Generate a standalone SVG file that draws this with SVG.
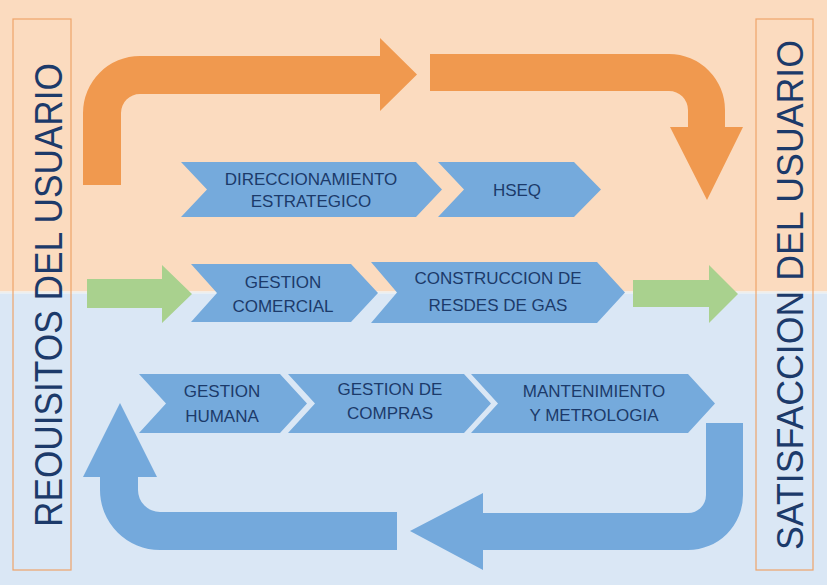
<svg xmlns="http://www.w3.org/2000/svg" width="831" height="588" viewBox="0 0 831 588">
  <style>
    .chev { fill: #75aadc; }
    .lbl { font-family: "Liberation Sans", Arial, sans-serif; font-size: 17px; fill: #1c3a6a; text-anchor: middle; }
    .side { font-family: "Liberation Sans", Arial, sans-serif; fill: #1c3a6a; text-anchor: middle; }
    .sidebox { fill: none; stroke: #eea46a; stroke-width: 1.2; }
    .orange { fill: #f0994f; }
    .green { fill: #a9d18e; }
    .blue { fill: #74a9dc; }
  </style>
  <rect x="0" y="0" width="831" height="588" fill="#ffffff"/>
  <rect x="0" y="0" width="827" height="291.5" fill="#fbdbbf"/>
  <rect x="0" y="291.5" width="827" height="2" fill="#eeeeec"/>
  <rect x="0" y="293.5" width="827" height="291.5" fill="#dae7f5"/>

  <g id="connectors">
    <path class="orange" d="M83,185 L83,113 A57,57 0 0 1 140,56 L380,56 L380,38 L417,74.5 L380,111 L380,94 L140,94 A19,19 0 0 0 121,113 L121,185 Z"/>
    <path class="orange" d="M430,54 L669,54 A56,56 0 0 1 725,110 L725,127 L743,127 L707,200 L670,127 L688,127 L688,110 A19,19 0 0 0 669,91 L430,91 Z"/>
    <path class="green" d="M87,279 L162,279 L162,265 L192,294 L162,323 L162,308 L87,308 Z"/>
    <path class="green" d="M633,280 L709,280 L709,265 L738,294 L709,323 L709,307 L633,307 Z"/>
    <path class="blue" d="M706,423 L743,423 L743,495 A55,55 0 0 1 688,550 L483,550 L483,570 L410,531 L483,493 L483,513 L688,513 A18,18 0 0 0 706,495 Z"/>
    <path class="blue" d="M397,512 L160,512 A22,22 0 0 1 138,490 L138,477 L157,477 L120,403 L83,477 L100,477 L100,490 A60,60 0 0 0 160,550 L397,550 Z"/>
  </g>

  <g id="requisitos">
    <rect class="sidebox" x="13" y="19" width="58" height="551"/>
    <text class="side" font-size="39" transform="translate(61.5,295) rotate(-90)" textLength="464" lengthAdjust="spacingAndGlyphs">REOUISITOS DEL USUARIO</text>
  </g>

  <g id="satisfaccion">
    <rect class="sidebox" x="756" y="19" width="57" height="551"/>
    <text class="side" font-size="37" transform="translate(803,295) rotate(-90)" textLength="510" lengthAdjust="spacingAndGlyphs">SATISFACCION DEL USUARIO</text>
  </g>

  <g id="direccionamiento">
    <polygon class="chev" points="181,162 416,162 442,189.5 416,217 181,217 207,189.5"/>
    <text class="lbl" x="311" y="185">DIRECCIONAMIENTO</text>
    <text class="lbl" x="311" y="207">ESTRATEGICO</text>
  </g>

  <g id="hseq">
    <polygon class="chev" points="438,162 574,162 601,189.5 574,217 438,217 464,189.5"/>
    <text class="lbl" x="517" y="196">HSEQ</text>
  </g>

  <g id="gestion-comercial">
    <polygon class="chev" points="191,264 351,264 378,293 351,322 191,322 217,293"/>
    <text class="lbl" x="283" y="288">GESTION</text>
    <text class="lbl" x="283" y="312">COMERCIAL</text>
  </g>

  <g id="construccion">
    <polygon class="chev" points="371,262 597,262 625,292.5 597,323 371,323 397,292.5"/>
    <text class="lbl" x="498" y="284">CONSTRUCCION DE</text>
    <text class="lbl" x="498" y="311">RESDES DE GAS</text>
  </g>

  <g id="gestion-humana">
    <polygon class="chev" points="139,374 280,374 307,403.5 280,433 139,433 166,403.5"/>
    <text class="lbl" x="222" y="397">GESTION</text>
    <text class="lbl" x="222" y="422">HUMANA</text>
  </g>

  <g id="gestion-compras">
    <polygon class="chev" points="288,374 464,374 491,403.5 464,433 288,433 315,403.5"/>
    <text class="lbl" x="390" y="395">GESTION DE</text>
    <text class="lbl" x="390" y="419">COMPRAS</text>
  </g>

  <g id="mantenimiento">
    <polygon class="chev" points="471,374 688,374 715,403.5 688,433 471,433 498,403.5"/>
    <text class="lbl" x="594" y="397">MANTENIMIENTO</text>
    <text class="lbl" x="594" y="421">Y METROLOGIA</text>
  </g>
</svg>
